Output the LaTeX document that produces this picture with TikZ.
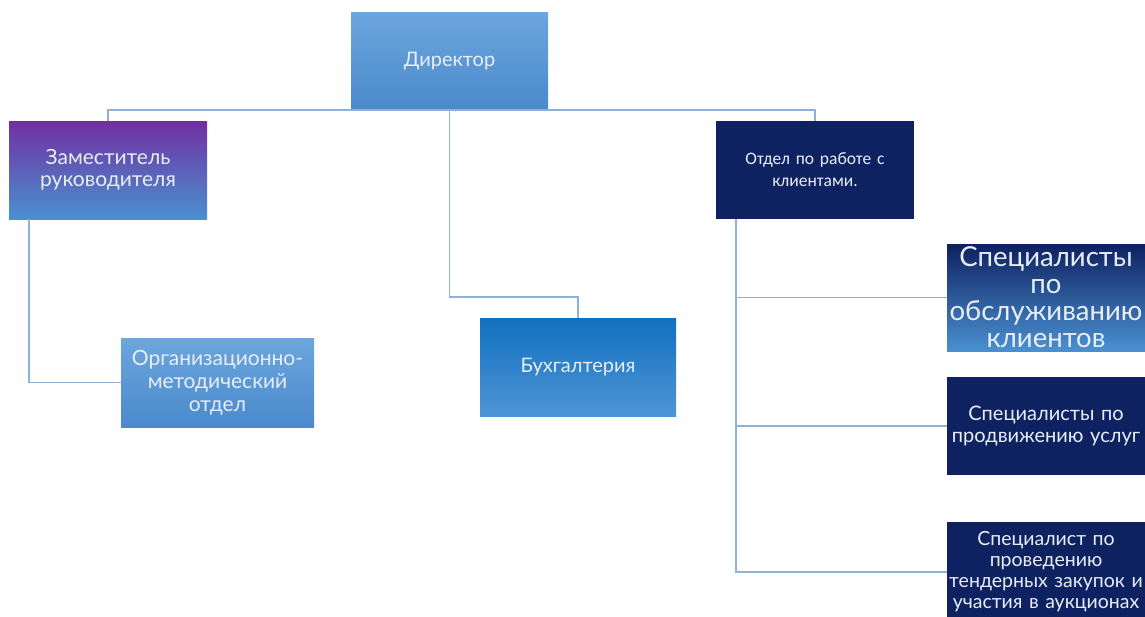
\documentclass[tikz,border=0pt]{standalone}
\usepackage{fontspec}
\setmainfont{Lato}
\newfontfamily\calib{Carlito}
\definecolor{linec}{HTML}{8FB1D8}
\definecolor{txt}{HTML}{E8EEF6}
\definecolor{navy}{HTML}{0E2161}
\definecolor{lbtop}{HTML}{6CA6DD}
\definecolor{lbbot}{HTML}{4A89CC}
\definecolor{purp}{HTML}{7030A0}
\definecolor{midb}{HTML}{4A90D0}
\definecolor{bktop}{HTML}{1070C0}
\definecolor{bkbot}{HTML}{4F95D5}
\tikzset{
  box/.style={rectangle, inner sep=0pt, align=center, text=txt, minimum width=#1},
  box/.default=198pt,
  conn/.style={draw=linec, line width=1.5pt},
}
\begin{document}
\begin{tikzpicture}[x=1pt,y=-1pt]
\useasboundingbox (0,0) rectangle (1145,616);
\coordinate (cbend) at (449.5,297);
\coordinate (spinetop) at (736,219);
\coordinate (lefttop) at (29,219);
\node[box=197pt, minimum height=98pt, top color=lbtop, bottom color=lbbot, font=\fontsize{20}{24}\selectfont] (dir) at (449.5,61) {Директор};
\node[box=198pt, minimum height=98pt, text width=196pt, top color=purp, bottom color=midb, font=\fontsize{21}{22}\selectfont] (zam) at (108,170) {Заместитель\\руководителя};
\node[box=198pt, minimum height=98pt, text width=196pt, fill=navy, font=\calib\fontsize{17.5}{22}\selectfont] (otd) at (815,170) {Отдел по работе с\\клиентами.};
\node[box=193pt, minimum height=89pt, text width=193pt, top color=lbtop, bottom color=lbbot, font=\fontsize{21}{23}\selectfont] (org) at (217.5,382.5) {Организационно-\\методический\\отдел};
\node[box=196pt, minimum height=98pt, top color=bktop, bottom color=bkbot, font=\fontsize{20}{24}\selectfont] (bukh) at (578,367) {Бухгалтерия};
\node[box=198pt, minimum height=107pt, text width=198pt, top color=navy, bottom color=midb, font=\fontsize{27.5}{27}\selectfont] (sp1) at (1046,297.5) {Специалисты\\по\\обслуживанию\\клиентов};
\node[box=198pt, minimum height=98pt, text width=198pt, fill=navy, font=\fontsize{20}{22}\selectfont] (sp2) at (1046,426) {Специалисты по\\продвижению услуг};
\node[box=198pt, minimum height=100pt, text width=198pt, fill=navy, font=\fontsize{19.5}{21}\selectfont] (sp3) at (1046,572) {Специалист по\\проведению\\тендерных закупок и\\участия в аукционах};
\path[conn] (zam.north) |- (dir.south) -| (otd.north);
\path[conn] (dir.south) -- (cbend) -| (bukh.north);
\path[conn] (lefttop) |- (org.west);
\path[conn] (spinetop) |- (sp3.west);
\path[conn] (spinetop) |- (sp1.west);
\path[conn] (spinetop) |- (sp2.west);
\end{tikzpicture}
\end{document}
